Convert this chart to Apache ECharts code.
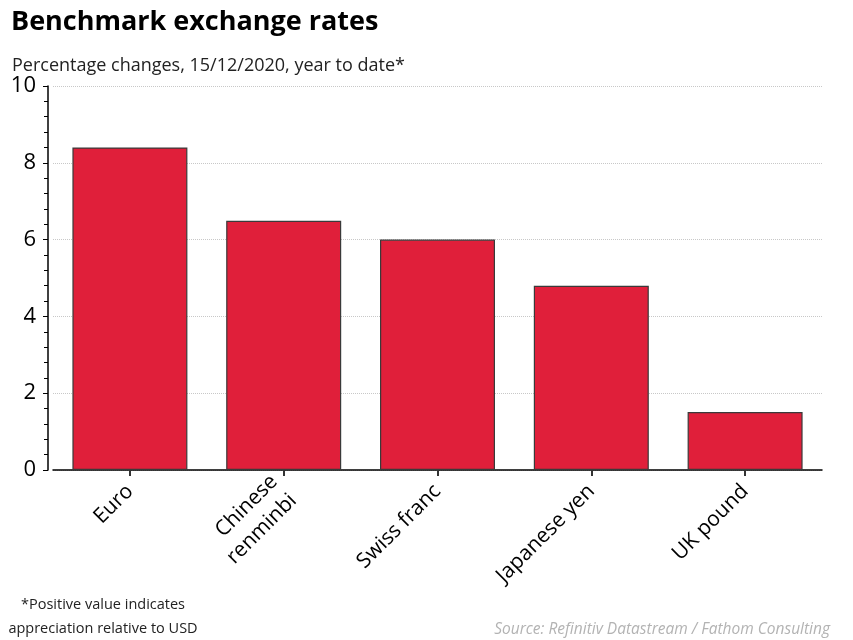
<!DOCTYPE html>
<html><head><meta charset="utf-8">
<script src="https://cdn.jsdelivr.net/npm/echarts@6/dist/echarts.min.js"></script>
<style>html,body{margin:0;padding:0;background:#fff}#c{width:853px;height:640px}</style>
</head><body><div id="c"></div>
<script>
const categories = ['Euro', 'Chinese\nrenminbi', 'Swiss franc', 'Japanese yen', 'UK pound'];
const values = [8.4, 6.49, 6.0, 4.8, 1.51];
const yTicks = [0, 2, 4, 6, 8, 10];

const FONT = '"Open Sans", "Noto Sans", sans-serif';
const chart = echarts.init(document.getElementById('c'));
chart.setOption({
  animation: false,
  backgroundColor: '#fff',
  title: [
    { text: 'Benchmark exchange rates', left: 6, top: 4,
      textStyle: { fontFamily: FONT, fontWeight: 'bold', fontSize: 27, color: '#000' } },
    { text: 'Percentage changes, 15/12/2020, year to date*', left: 7, top: 52,
      textStyle: { fontFamily: FONT, fontWeight: 'normal', fontSize: 18, color: '#222' } },
    { text: 'Source: Refinitiv Datastream / Fathom Consulting', right: 18, top: 617,
      textStyle: { fontFamily: FONT, fontWeight: 'normal', fontStyle: 'italic', fontSize: 15.5, color: '#b3b3b3' } }
  ],
  graphic: [
    { type: 'text', x: 103, y: 593, silent: true,
      style: { text: '*Positive value indicates\nappreciation relative to USD',
        align: 'center', verticalAlign: 'top', fontFamily: FONT, fontSize: 14.5, lineHeight: 24, fill: '#222' } }
  ],
  grid: { left: 53, right: 31, top: 86, bottom: 170, containLabel: false },
  xAxis: {
    type: 'category',
    data: categories,
    axisLine: { show: true, lineStyle: { color: '#000', width: 1.5 } },
    axisTick: { show: true, alignWithLabel: true, length: 6, lineStyle: { color: '#333', width: 2 } },
    axisLabel: { rotate: 45, fontFamily: FONT, fontSize: 21, color: '#000', margin: 18, lineHeight: 27, interval: 0, align: 'right' }
  },
  yAxis: {
    type: 'value',
    offset: 5,
    min: yTicks[0], max: yTicks[yTicks.length - 1], interval: 2,
    axisLine: { show: true, lineStyle: { color: '#000', width: 1.5 } },
    axisTick: { show: true, inside: false, length: 5, lineStyle: { color: '#000' } },
    minorTick: { show: true, splitNumber: 5, length: 4, lineStyle: { color: '#000' } },
    axisLabel: { fontFamily: FONT, fontSize: 22, color: '#000', margin: 12 },
    splitLine: { show: true, lineStyle: { color: '#c8c8c8', type: 'dotted', width: 1 } }
  },
  series: [{
    type: 'bar',
    data: values,
    barWidth: 115,
    itemStyle: { color: '#E01F3A', borderColor: '#3a3a3a', borderWidth: 1.2 }
  }]
});
</script></body></html>
